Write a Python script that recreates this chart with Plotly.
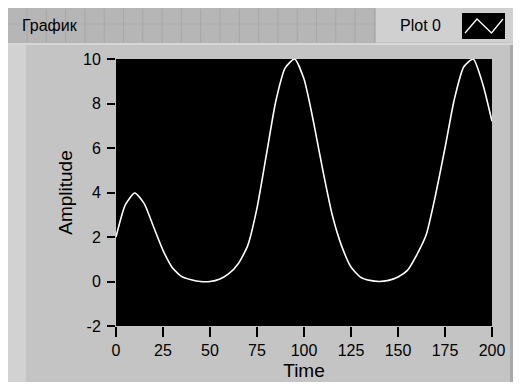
import plotly.graph_objects as go

# data
time = [0, 5, 10, 15, 20, 25, 30, 35, 40, 45, 50, 55, 60, 65, 70, 75, 80,
        85, 90, 95, 100, 105, 110, 115, 120, 125, 130, 135, 140, 145, 150,
        155, 160, 165, 170, 175, 180, 185, 190, 195, 200]
amplitude = [2.0, 3.45, 3.98, 3.5, 2.45, 1.4, 0.62, 0.22, 0.08, 0.0, 0.0,
             0.1, 0.35, 0.8, 1.6, 3.3, 5.7, 8.1, 9.6, 10.0, 9.1, 7.2, 5.0,
             3.0, 1.6, 0.65, 0.2, 0.05, 0.0, 0.05, 0.2, 0.5, 1.2, 2.1, 3.9,
             6.0, 8.2, 9.65, 10.0, 8.9, 7.2]
x_ticks = [0, 25, 50, 75, 100, 125, 150, 175, 200]
y_ticks = [-2, 0, 2, 4, 6, 8, 10]
y_tick_labels = ["-2", "0", "2", "4", "6", "8", "10"]

# the page body adds an 8px margin, so the figure starts at (8, 8)
OFF = 8
W, H = 510, 374
L, R, T, B = 116, 492, 59, 326  # plot area in page pixels


def px(x):
    return (x - L) / (R - L)


def py(y):
    return (B - y) / (B - T)


def rect(x0, y0, x1, y1, color, layer="below"):
    return dict(type="rect", xref="paper", yref="paper", layer=layer,
                x0=px(x0), x1=px(x1), y0=py(y1), y1=py(y0),
                fillcolor=color, line=dict(width=0))


def vline(x, y0, y1, color, w=1):
    return dict(type="line", xref="paper", yref="paper", layer="below",
                x0=px(x), x1=px(x), y0=py(y0), y1=py(y1),
                line=dict(color=color, width=w))


fig = go.Figure()
fig.add_trace(go.Scatter(x=time, y=amplitude, mode="lines",
                         line=dict(color="white", width=1.6, shape="spline",
                                   smoothing=0.6),
                         showlegend=False))

shapes = [
    rect(8, 44, 26, 382, "#d2d2d2"),          # light left strip
    rect(510, 44, 518, 382, "#a9a9a9"),       # dark right strip
    rect(8, 8, 376, 43, "#b6b6b6"),           # header bar
    rect(8, 43, 518, 45, "#d6d6d6"),          # separator
]
# header grid
gx = 27.0
while gx < 376:
    shapes.append(vline(gx, 9, 43, "#a7a7a7"))
    gx += 19.3
shapes.append(dict(type="line", xref="paper", yref="paper", layer="below",
                   x0=px(8), x1=px(376), y0=py(24), y1=py(24),
                   line=dict(color="#acacac", width=1)))
# legend box
shapes.append(rect(376, 8, 518, 42, "#d0d0d0", layer="above"))
shapes.append(rect(462, 13, 505, 39, "black", layer="above"))
shapes.append(dict(type="path", xref="paper", yref="paper", layer="above",
                   path="M {} {} L {} {} L {} {} L {} {}".format(
                       px(465), py(33), px(477), py(19),
                       px(491.5), py(33), px(503), py(19)),
                   line=dict(color="white", width=1.3)))

fig.update_layout(
    width=W, height=H,
    margin=dict(l=L - OFF, r=W + OFF - R, t=T - OFF, b=H + OFF - B),
    paper_bgcolor="#c4c4c4",
    plot_bgcolor="black",
    font=dict(family="Liberation Sans, Arial, sans-serif", size=16,
              color="black"),
    shapes=shapes,
    annotations=[
        dict(text="График", xref="paper", yref="paper", x=px(20), y=py(26),
             xanchor="left", yanchor="middle", showarrow=False,
             font=dict(size=16)),
        dict(text="Plot 0", xref="paper", yref="paper", x=px(420), y=py(26),
             xanchor="center", yanchor="middle", showarrow=False,
             font=dict(size=16)),
    ],
)
fig.update_xaxes(range=[0, 200], tickvals=x_ticks, ticks="outside",
                 ticklen=10, tickwidth=1.5, tickcolor="black",
                 showgrid=False, zeroline=False, showline=False,
                 title=dict(text="Time", standoff=5), automargin=False)
fig.update_yaxes(range=[-2, 10], tickvals=y_ticks, ticktext=y_tick_labels,
                 ticks="outside", ticklen=8, tickwidth=1.5,
                 tickcolor="black", ticklabelstandoff=3,
                 showgrid=False, zeroline=False, showline=False,
                 title=dict(text="Amplitude", standoff=5), automargin=False)

fig.write_html("out.html")
